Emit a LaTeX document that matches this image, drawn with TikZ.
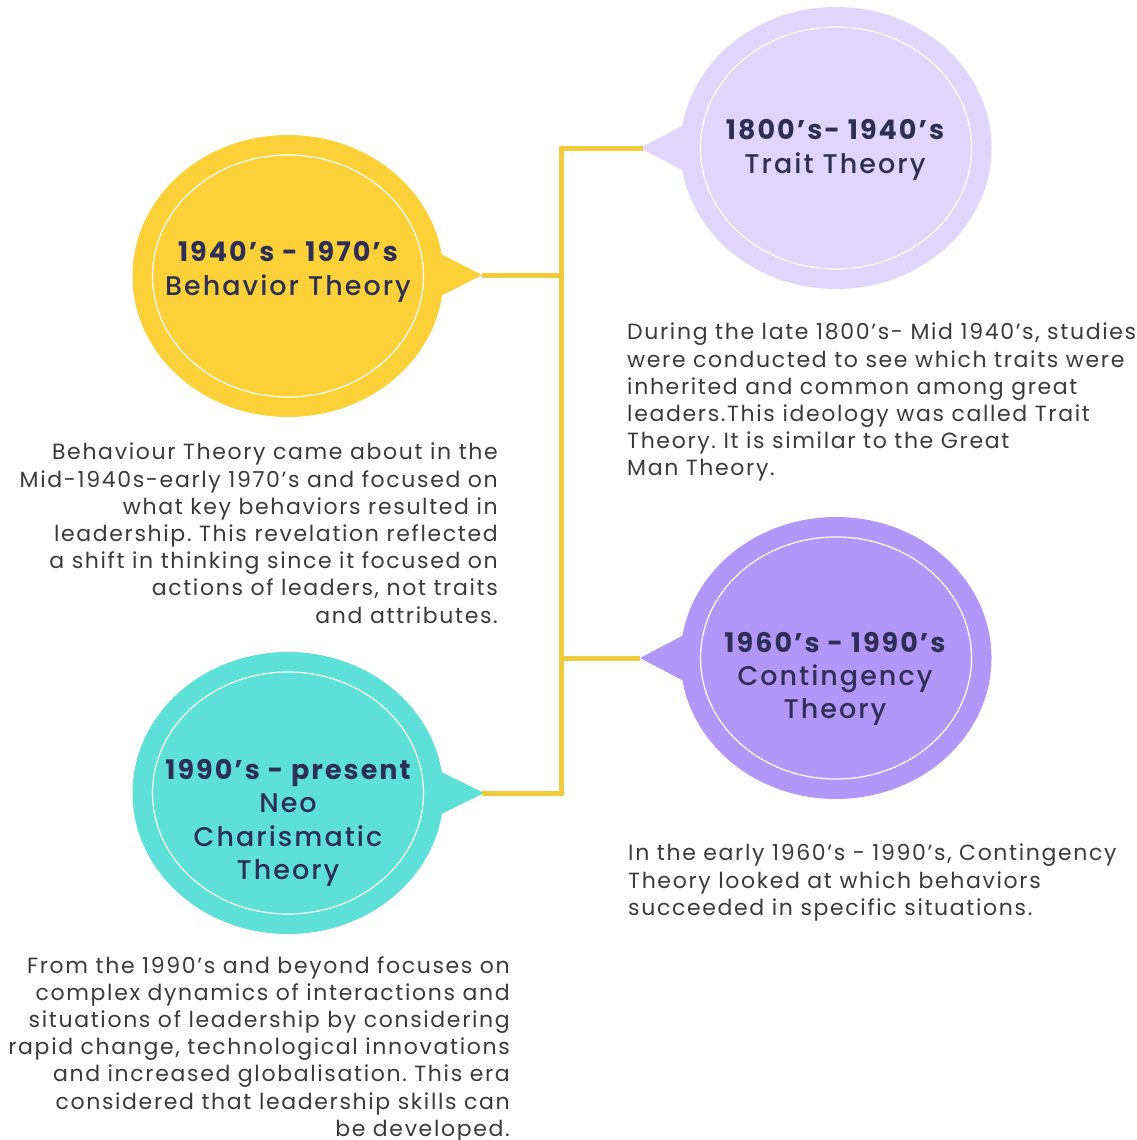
\documentclass[tikz,border=0pt]{standalone}
\usepackage{fontspec}
\setmainfont{Poppins}
\newfontfamily\titlefont{Poppins}[LetterSpace=7.5]
\newfontfamily\titlemed{Poppins Medium}[LetterSpace=7.5]
\newfontfamily\bodyfont{Poppins}[LetterSpace=7.5]
\usetikzlibrary{shapes.geometric}
\definecolor{lav}{HTML}{E0D5FA}
\definecolor{sun}{HTML}{FCD037}
\definecolor{aqua}{HTML}{5DE0D8}
\definecolor{violet}{HTML}{B197F7}
\definecolor{linkline}{HTML}{F2CB3C}
\definecolor{titlecol}{HTML}{2E2F56}
\definecolor{bodycol}{HTML}{3A3A3A}
\newcommand{\yrs}[1]{{\titlefont\bfseries #1}}
\frenchspacing
\begin{document}
\begin{tikzpicture}[x=1pt,y=-1pt,
  bubble/.style={ellipse, minimum width=311pt, minimum height=282pt, inner sep=0pt},
  ring/.style={ellipse, draw=white, line width=1.2pt, minimum width=271pt, minimum height=242pt, inner sep=0pt},
  title/.style={align=center, text=titlecol, font=\fontsize{27}{33.3}\titlemed, inner sep=0pt},
  body/.style={text=bodycol, font=\fontsize{22}{27.2}\bodyfont, inner sep=0pt},
  link/.style={draw=linkline, line width=5pt}]
\useasboundingbox (0,0) rectangle (1137,1140);

% bubbles with their pointers
\node[bubble, fill=lav] (trait) at (836,148) {};
\fill[lav] (700,116.5) -- (640,148) coordinate (traittip) -- (700,179.5) -- cycle;
\node[ring] at (trait.center) {};

\node[bubble, fill=sun] (behav) at (288,276) {};
\fill[sun] (423,245) -- (482,275) coordinate (behavtip) -- (423,305) -- cycle;
\node[ring] at (behav.center) {};

\node[bubble, fill=violet] (cont) at (836,658) {};
\fill[violet] (700,626.5) -- (640,658) coordinate (conttip) -- (700,689.5) -- cycle;
\node[ring] at (cont.center) {};

\node[bubble, fill=aqua] (neo) at (288,793) {};
\fill[aqua] (423,763) -- (484,793) coordinate (neotip) -- (423,823) -- cycle;
\node[ring] at (neo.center) {};

% yellow connectors
\coordinate (spinetop) at (561,148);
\coordinate (spinebot) at (561,793);
\draw[link, line cap=rect] (traittip) -- (spinetop) -- (spinebot) -- (neotip);
\draw[link] (behavtip) -- (behavtip -| spinetop);
\draw[link] (conttip) -- (conttip -| spinetop);

% titles
\node[title] (traitT) at (835,150) {\yrs{1800’s- 1940’s}\\Trait Theory};
\node[title] (behavT) at (288,272) {\yrs{1940’s - 1970’s}\\Behavior Theory};
\node[title] (contT) at (835,679) {\yrs{1960’s - 1990’s}\\Contingency\\Theory};
\node[title] (neoT) at (288,823) {\yrs{1990’s - present}\\Neo\\Charismatic\\Theory};

% descriptions
\node[body, align=left, anchor=north west] (traitD) at (627,323) {During the late 1800’s- Mid 1940’s, studies\\were conducted to see which traits were\\inherited and common among great\\leaders.This ideology was called Trait\\Theory. It is similar to the Great\\Man Theory.};
\node[body, align=right, anchor=north east] (behavD) at (498,443) {Behaviour Theory came about in the\\Mid-1940s-early 1970’s and focused on\\what key behaviors resulted in\\leadership. This revelation reflected\\a shift in thinking since it focused on\\actions of leaders, not traits\\and attributes.};
\node[body, align=left, anchor=north west] (contD) at (628,844) {In the early 1960’s - 1990’s, Contingency\\Theory looked at which behaviors\\succeeded in specific situations.};
\node[body, align=right, anchor=north east] (neoD) at (510,956) {From the 1990’s and beyond focuses on\\complex dynamics of interactions and\\situations of leadership by considering\\rapid change, technological innovations\\and increased globalisation. This era\\considered that leadership skills can\\be developed.};
\end{tikzpicture}
\end{document}
